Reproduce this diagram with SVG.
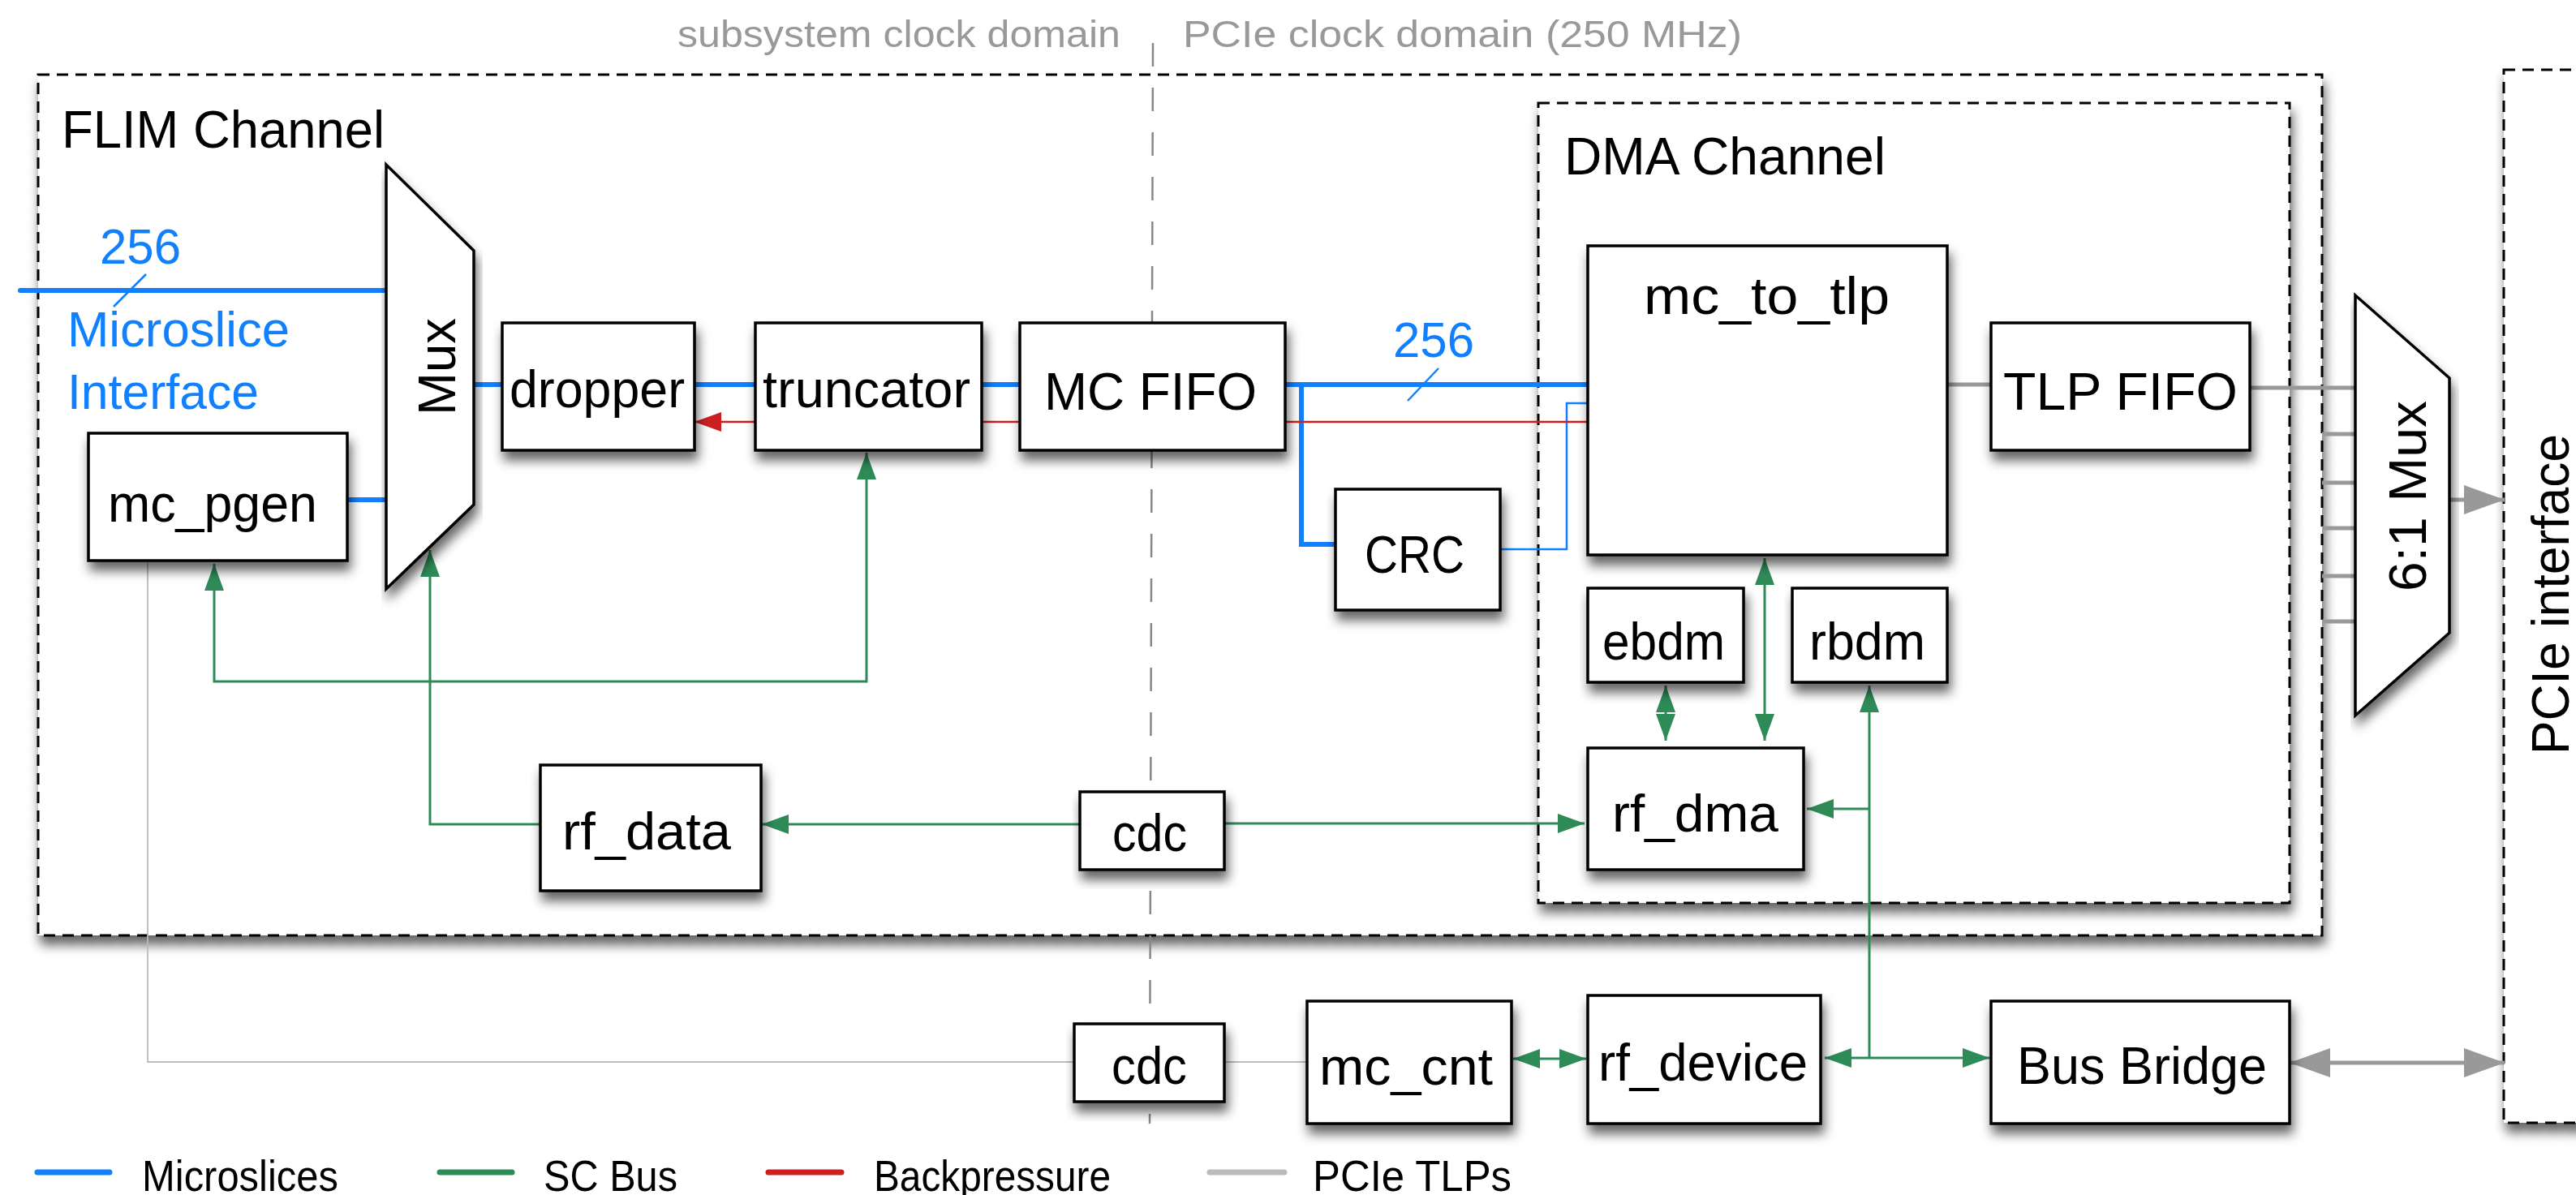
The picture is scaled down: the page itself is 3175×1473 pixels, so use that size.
<svg xmlns="http://www.w3.org/2000/svg" width="3175" height="1473" viewBox="0 0 3175 1473">
  <style>
    .box { fill:#fff; stroke:#000; stroke-width:3.5; filter:url(#sh); }
    .cont { fill:#fff; stroke:#000; stroke-width:3; stroke-dasharray:14 9; filter:url(#sh); }
    text { font-family:"Liberation Sans", Arial, sans-serif; }
    .lbl { font-size:64px; fill:#000; }
    .blue-t { font-size:62px; fill:#1080ff; }
    .dom { font-size:46px; fill:#999; }
    .leg { font-size:54px; fill:#000; }
    .ms { fill:none; stroke:#1080ff; stroke-width:6; }
    .ms-thin { fill:none; stroke:#1080ff; stroke-width:2.5; }
    .sc { fill:none; stroke:#2e8b57; stroke-width:3; }
    .bp { fill:none; stroke:#cc2020; stroke-width:2.5; }
    .tlp { fill:none; stroke:#999; stroke-width:5; }
    .aux { fill:none; stroke:#bbb; stroke-width:1.8; }
    .clk { fill:none; stroke:#888; stroke-width:2.5; stroke-dasharray:29 26; }
  </style>
  <defs>
    <filter id="sh" x="-5%" y="-5%" width="115%" height="130%">
      <feDropShadow dx="3" dy="11" stdDeviation="7" flood-color="#000" flood-opacity="0.6"/>
    </filter>
    <marker id="ag" viewBox="0 0 33 24" refX="33" refY="12" markerWidth="33" markerHeight="24" markerUnits="userSpaceOnUse" orient="auto-start-reverse">
      <path d="M0,0 L33,12 L0,24 z" fill="#2e8b57"/>
    </marker>
    <marker id="ar" viewBox="0 0 33 24" refX="33" refY="12" markerWidth="33" markerHeight="24" markerUnits="userSpaceOnUse" orient="auto-start-reverse">
      <path d="M0,0 L33,12 L0,24 z" fill="#cc2020"/>
    </marker>
    <marker id="agr" viewBox="0 0 50 36" refX="50" refY="18" markerWidth="50" markerHeight="36" markerUnits="userSpaceOnUse" orient="auto-start-reverse">
      <path d="M0,0 L50,18 L0,36 z" fill="#999"/>
    </marker>
  </defs>

  <rect width="3175" height="1473" fill="#fff"/>

  <!-- containers -->
  <g id="flim-channel">
    <rect class="cont" x="47" y="92" width="2815" height="1061"/>
    <text class="lbl" x="76" y="182" textLength="398" lengthAdjust="spacingAndGlyphs">FLIM Channel</text>
  </g>
  <g id="dma-channel">
    <rect class="cont" x="1896" y="127" width="926" height="986"/>
    <text class="lbl" x="1928" y="215" textLength="396" lengthAdjust="spacingAndGlyphs">DMA Channel</text>
  </g>
  <g id="pcie-interface">
    <rect class="cont" x="3086" y="86" width="200" height="1298"/>
    <text class="lbl" transform="translate(3166,930) rotate(-90)" textLength="395" lengthAdjust="spacingAndGlyphs">PCIe interface</text>
  </g>

  <!-- clock domain boundary -->
  <g id="clock-domains">
    <path class="clk" d="M1421,53 L1417,1385"/>
    <text class="dom" x="835" y="58" textLength="546" lengthAdjust="spacingAndGlyphs">subsystem clock domain</text>
    <text class="dom" x="1458" y="58" textLength="689" lengthAdjust="spacingAndGlyphs">PCIe clock domain (250 MHz)</text>
  </g>

  <!-- connectors -->
  <g id="connectors">
    <!-- microslice data path -->
    <path class="ms" d="M25,358 L476,358" stroke-linecap="round"/>
    <path class="ms-thin" d="M140,378 L180,338"/>
    <path class="ms" d="M428,616 L476,616"/>
    <path class="ms" d="M584,474 L619,474"/>
    <path class="ms" d="M856,474 L931,474"/>
    <path class="ms" d="M1210,474 L1257,474"/>
    <path class="ms" d="M1584,474 L1957,474"/>
    <path class="ms-thin" d="M1735,494 L1773,454"/>
    <path class="ms" d="M1604,474 L1604,671 L1646,671"/>
    <path class="ms-thin" d="M1849,677 L1931,677 L1931,497 L1957,497"/>

    <!-- backpressure -->
    <path class="bp" d="M1957,520 L856,520" marker-end="url(#ar)"/>

    <!-- PCIe TLPs -->
    <path class="tlp" d="M2400,474 L2454,474"/>
    <path class="tlp" d="M2773,478 L2903,478"/>
    <path class="tlp" d="M2862,535 L2903,535 M2862,595 L2903,595 M2862,651 L2903,651 M2862,710 L2903,710 M2862,766 L2903,766"/>
    <path class="tlp" d="M3019,616 L3087,616" stroke-width="6" marker-end="url(#agr)"/>
    <path class="tlp" d="M2822,1310 L3087,1310" stroke-width="7" marker-start="url(#agr)" marker-end="url(#agr)"/>

    <!-- counter line through the lower cdc -->
    <path class="aux" d="M182,691 L182,1309 L1611,1309"/>

    <!-- SC bus -->
    <path class="sc" d="M264,695 L264,840 L1068,840 L1068,558" marker-start="url(#ag)" marker-end="url(#ag)"/>
    <path class="sc" d="M530,678 L530,1016 L939,1016" marker-start="url(#ag)" marker-end="url(#ag)"/>
    <path class="sc" d="M1331,1016 L939,1016" marker-end="url(#ag)"/>
    <path class="sc" d="M1509,1015 L1953,1015" marker-end="url(#ag)"/>
    <path class="sc" d="M2053,845 L2053,913" marker-start="url(#ag)" marker-end="url(#ag)"/>
    <path class="sc" d="M2175,688 L2175,913" marker-start="url(#ag)" marker-end="url(#ag)"/>
    <path class="sc" d="M2304,845 L2304,1304" marker-start="url(#ag)"/>
    <path class="sc" d="M2304,997 L2227,997" marker-end="url(#ag)"/>
    <path class="sc" d="M2249,1304 L2452,1304" marker-start="url(#ag)" marker-end="url(#ag)"/>
    <path class="sc" d="M1865,1305 L1955,1305" marker-start="url(#ag)" marker-end="url(#ag)"/>
  </g>

  <!-- microslice input label -->
  <g id="microslice-interface">
    <text class="blue-t" x="123" y="325" textLength="100" lengthAdjust="spacingAndGlyphs">256</text>
    <text class="blue-t" x="83" y="427" textLength="274" lengthAdjust="spacingAndGlyphs">Microslice</text>
    <text class="blue-t" x="83" y="504" textLength="236" lengthAdjust="spacingAndGlyphs">Interface</text>
  </g>
  <g id="width-label">
    <text class="blue-t" x="1717" y="440" textLength="100" lengthAdjust="spacingAndGlyphs">256</text>
  </g>

  <!-- nodes -->
  <g id="mc-pgen">
    <rect class="box" x="109" y="534" width="319" height="157"/>
    <text class="lbl" x="133" y="643" textLength="258" lengthAdjust="spacingAndGlyphs">mc_pgen</text>
  </g>
  <g id="mux">
    <polygon class="box" points="476,203 584,309 584,622 476,726"/>
    <text class="lbl" transform="translate(561,512) rotate(-90)" textLength="120" lengthAdjust="spacingAndGlyphs">Mux</text>
  </g>
  <g id="dropper">
    <rect class="box" x="619" y="398" width="237" height="157"/>
    <text class="lbl" x="628" y="502" textLength="216" lengthAdjust="spacingAndGlyphs">dropper</text>
  </g>
  <g id="truncator">
    <rect class="box" x="931" y="398" width="279" height="157"/>
    <text class="lbl" x="940" y="502" textLength="256" lengthAdjust="spacingAndGlyphs">truncator</text>
  </g>
  <g id="mc-fifo">
    <rect class="box" x="1257" y="398" width="327" height="157"/>
    <text class="lbl" x="1287" y="505" textLength="262" lengthAdjust="spacingAndGlyphs">MC FIFO</text>
  </g>
  <g id="crc">
    <rect class="box" x="1646" y="603" width="203" height="149"/>
    <text class="lbl" x="1682" y="706" textLength="123" lengthAdjust="spacingAndGlyphs">CRC</text>
  </g>
  <g id="mc-to-tlp">
    <rect class="box" x="1957" y="303" width="443" height="381"/>
    <text class="lbl" x="2026" y="387" textLength="303" lengthAdjust="spacingAndGlyphs">mc_to_tlp</text>
  </g>
  <g id="tlp-fifo">
    <rect class="box" x="2454" y="398" width="319" height="157"/>
    <text class="lbl" x="2469" y="505" textLength="289" lengthAdjust="spacingAndGlyphs">TLP FIFO</text>
  </g>
  <g id="mux-6-1">
    <polygon class="box" points="2903,364 3019,466 3019,780 2903,882"/>
    <text class="lbl" transform="translate(2990,729) rotate(-90)" textLength="235" lengthAdjust="spacingAndGlyphs">6:1 Mux</text>
  </g>
  <g id="ebdm">
    <rect class="box" x="1957" y="725" width="192" height="116"/>
    <text class="lbl" x="1975" y="813" textLength="151" lengthAdjust="spacingAndGlyphs">ebdm</text>
  </g>
  <g id="rbdm">
    <rect class="box" x="2209" y="725" width="191" height="116"/>
    <text class="lbl" x="2230" y="813" textLength="143" lengthAdjust="spacingAndGlyphs">rbdm</text>
  </g>
  <g id="rf-dma">
    <rect class="box" x="1957" y="922" width="266" height="150"/>
    <text class="lbl" x="1987" y="1025" textLength="205" lengthAdjust="spacingAndGlyphs">rf_dma</text>
  </g>
  <g id="rf-data">
    <rect class="box" x="666" y="943" width="272" height="155"/>
    <text class="lbl" x="693" y="1047" textLength="208" lengthAdjust="spacingAndGlyphs">rf_data</text>
  </g>
  <g id="cdc-sc">
    <rect class="box" x="1331" y="976" width="178" height="96"/>
    <text class="lbl" x="1371" y="1049" textLength="92" lengthAdjust="spacingAndGlyphs">cdc</text>
  </g>
  <g id="cdc-cnt">
    <rect class="box" x="1324" y="1262" width="185" height="96"/>
    <text class="lbl" x="1370" y="1336" textLength="93" lengthAdjust="spacingAndGlyphs">cdc</text>
  </g>
  <g id="mc-cnt">
    <rect class="box" x="1611" y="1234" width="252" height="151"/>
    <text class="lbl" x="1626" y="1337" textLength="214" lengthAdjust="spacingAndGlyphs">mc_cnt</text>
  </g>
  <g id="rf-device">
    <rect class="box" x="1957" y="1227" width="287" height="158"/>
    <text class="lbl" x="1970" y="1332" textLength="258" lengthAdjust="spacingAndGlyphs">rf_device</text>
  </g>
  <g id="bus-bridge">
    <rect class="box" x="2454" y="1234" width="368" height="151"/>
    <text class="lbl" x="2486" y="1336" textLength="308" lengthAdjust="spacingAndGlyphs">Bus Bridge</text>
  </g>

  <!-- legend -->
  <g id="legend">
    <path d="M46,1445 L135,1445" stroke="#1080ff" stroke-width="7" stroke-linecap="round"/>
    <text class="leg" x="175" y="1468" textLength="242" lengthAdjust="spacingAndGlyphs">Microslices</text>
    <path d="M542,1445 L631,1445" stroke="#2e8b57" stroke-width="7" stroke-linecap="round"/>
    <text class="leg" x="670" y="1468" textLength="165" lengthAdjust="spacingAndGlyphs">SC Bus</text>
    <path d="M947,1445 L1037,1445" stroke="#cc2020" stroke-width="7" stroke-linecap="round"/>
    <text class="leg" x="1077" y="1468" textLength="292" lengthAdjust="spacingAndGlyphs">Backpressure</text>
    <path d="M1491,1445 L1583,1445" stroke="#bbb" stroke-width="7" stroke-linecap="round"/>
    <text class="leg" x="1618" y="1468" textLength="245" lengthAdjust="spacingAndGlyphs">PCIe TLPs</text>
  </g>
</svg>
